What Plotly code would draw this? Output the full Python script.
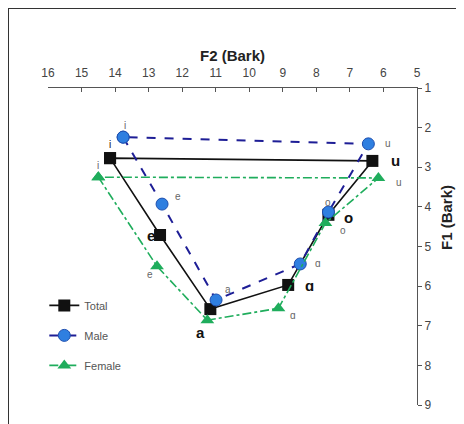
import plotly.graph_objects as go

vowels = ["i", "e", "a", "ɑ", "o", "u"]
total_f2 = [14.15, 12.66, 11.16, 8.84, 7.64, 6.33]
total_f1 = [2.77, 4.71, 6.58, 5.97, 4.20, 2.84]
male_f2 = [13.76, 12.60, 10.99, 8.48, 7.64, 6.45]
male_f1 = [2.24, 3.93, 6.35, 5.44, 4.13, 2.41]
female_f2 = [14.50, 12.75, 11.25, 9.13, 7.73, 6.15]
female_f1 = [3.25, 5.50, 6.86, 6.56, 4.41, 3.27]

f2_ticks = list(range(16, 4, -1))
f1_ticks = list(range(1, 10))

FONT = "Liberation Sans, Arial, sans-serif"

W, H = 456, 416
ML, MR, MT, MB = 40, 47, 80, 19
PW, PH = W - ML - MR, H - MT - MB

def closed(v):
    return list(v) + [v[0]]

fig = go.Figure()
fig.add_trace(go.Scatter(
    x=closed(total_f2), y=closed(total_f1), name="Total", mode="lines+markers",
    line=dict(color="#111111", width=1.6),
    marker=dict(symbol="square", size=12, color="#111111"),
    legendgroup="t"))
fig.add_trace(go.Scatter(
    x=closed(male_f2), y=closed(male_f1), name="Male", mode="lines+markers",
    line=dict(color="#1e1e96", width=2, dash="dash"),
    marker=dict(symbol="circle", size=12, color="#2f7fe0", line=dict(color="#1e4fb0", width=1)),
    legendgroup="m"))
fig.add_trace(go.Scatter(
    x=closed(female_f2), y=closed(female_f1), name="Female", mode="lines+markers",
    line=dict(color="#1fad5c", width=1.6, dash="dashdot"),
    marker=dict(symbol="triangle-up", size=12, color="#1fad5c"),
    legendgroup="f"))

annotations = []
total_off = [(0, -14), (-9, 0), (-10, 23), (21, 1), (20, 3), (23, 0)]
male_off = [(2, -12), (16, -8), (12, -10), (18, 0), (0, -10), (20, 0)]
female_off = [(0, -12), (-7, 8), None, (15, 7), (18, 7), (21, 5)]
for k, v in enumerate(vowels):
    dx, dy = total_off[k]
    txt = v if k == 0 else "<b>" + v + "</b>"
    annotations.append(dict(x=total_f2[k], y=total_f1[k], text=txt, showarrow=False,
                            xshift=dx, yshift=-dy,
                            font=dict(family=FONT, size=15 if k > 0 else 10,
                                      color="#111111")))
    dx, dy = male_off[k]
    annotations.append(dict(x=male_f2[k], y=male_f1[k], text=v, showarrow=False,
                            xshift=dx, yshift=-dy,
                            font=dict(family=FONT, size=10, color="#666666")))
    if female_off[k] is not None:
        dx, dy = female_off[k]
        annotations.append(dict(x=female_f2[k], y=female_f1[k], text=v, showarrow=False,
                                xshift=dx, yshift=-dy,
                                font=dict(family=FONT, size=10, color="#666666")))

annotations.append(dict(x=0.5, y=1.0, xref="paper", yref="paper", yshift=33,
                        xanchor="center", yanchor="middle",
                        text="<b>F2 (Bark)</b>", showarrow=False,
                        font=dict(family=FONT, size=15, color="#222222")))
annotations.append(dict(x=1.0, y=0.59, xref="paper", yref="paper", xshift=30,
                        xanchor="center", yanchor="middle",
                        text="<b>F1 (Bark)</b>", showarrow=False, textangle=-90,
                        font=dict(family=FONT, size=15, color="#222222")))

x_edge = -ML / PW
y_edge = 1 + MT / PH

fig.update_layout(
    width=W, height=H,
    margin=dict(l=ML, r=MR, t=MT, b=MB),
    paper_bgcolor="white", plot_bgcolor="white",
    font=dict(family=FONT, size=11, color="#444444"),
    annotations=annotations,
    showlegend=True,
    legend=dict(x=-0.01, y=0.36, xanchor="left", yanchor="top",
                bgcolor="rgba(0,0,0,0)", traceorder="grouped", tracegroupgap=11,
                font=dict(family=FONT, size=11, color="#555555")),
    shapes=[
        dict(type="line", xref="paper", yref="paper", x0=x_edge, x1=x_edge, y0=-0.2, y1=y_edge,
             line=dict(color="#333333", width=2)),
        dict(type="line", xref="paper", yref="paper", x0=x_edge, x1=1.3, y0=y_edge, y1=y_edge,
             line=dict(color="#333333", width=2)),
    ],
)
fig.update_xaxes(side="top", range=[16, 5], tickvals=f2_ticks, ticktext=[str(t) for t in f2_ticks],
                 showline=True, linecolor="#555555", linewidth=1, ticks="inside", ticklen=4,
                 tickcolor="#555555", showgrid=False, zeroline=False, ticklabelstandoff=5,
                 tickfont=dict(family=FONT, size=12, color="#444444"))
fig.update_yaxes(side="right", range=[9, 1], tickvals=f1_ticks, ticktext=[str(t) for t in f1_ticks],
                 showline=True, linecolor="#555555", linewidth=1, ticks="outside", ticklen=4,
                 tickcolor="#555555", showgrid=False, zeroline=False,
                 tickfont=dict(family=FONT, size=12, color="#444444"))

fig.write_html("out.html")
